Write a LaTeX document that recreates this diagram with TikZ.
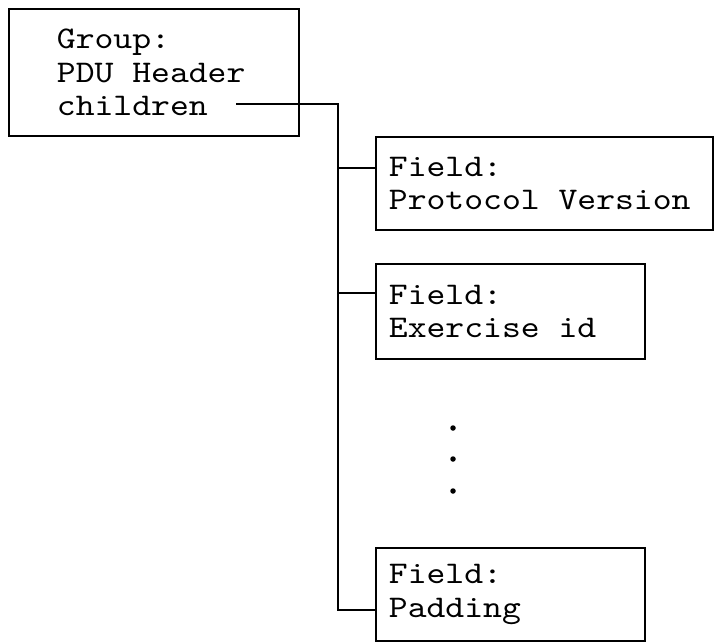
\documentclass[tikz,border=0pt]{standalone}
\usepackage{fontspec}
% Typewriter face, widened a little to a Courier-like pitch
\setmonofont{lmmono10-regular.otf}[FakeStretch=1.14]
\begin{document}
\begin{tikzpicture}[x=1pt,y=-1pt,
  line width=1.8pt,
  box/.style={draw, rectangle, inner sep=0pt, anchor=north west},
  label/.style={inner sep=0pt, anchor=west, align=left,
    font=\ttfamily\fontsize{31.5}{33.5}\selectfont},
  dot/.style={circle, fill, inner sep=0pt, minimum size=5.5pt}]
\useasboundingbox (0,0) rectangle (715,642);

% parent group
\node[box, minimum width=290pt, minimum height=127pt] (grp) at (8,8) {};
\node[label] (grptxt) at ([xshift=48pt]grp.west) {Group:\\PDU Header\\children};

% child fields
\node[box, minimum width=337pt, minimum height=93pt] (f1) at (375,136) {};
\node[label] (f1txt) at ([xshift=13pt]f1.west) {Field:\\Protocol Version};

\node[box, minimum width=269pt, minimum height=95pt] (f2) at (375,263) {};
\node[label] (f2txt) at ([xshift=13pt]f2.west) {Field:\\Exercise id};

\node[box, minimum width=269pt, minimum height=93pt] (f3) at (375,547) {};
\node[label] (f3txt) at ([xshift=13pt]f3.west) {Field:\\Padding};

% ellipsis
\node[dot] (d1) at (453,428) {};
\node[dot] (d2) at (453,459) {};
\node[dot] (d3) at (453,491) {};

% tree connectors
\coordinate (cstart) at (236,104);
\coordinate (trunktop) at (338,104);
\coordinate (b1) at (338,168);
\coordinate (b2) at (338,293);
\coordinate (b3) at (338,610);
\draw (cstart) -- (trunktop) -- (b3) -- (f3.west |- b3);
\draw (b1) -- (f1.west |- b1);
\draw (b2) -- (f2.west |- b2);
\end{tikzpicture}
\end{document}
